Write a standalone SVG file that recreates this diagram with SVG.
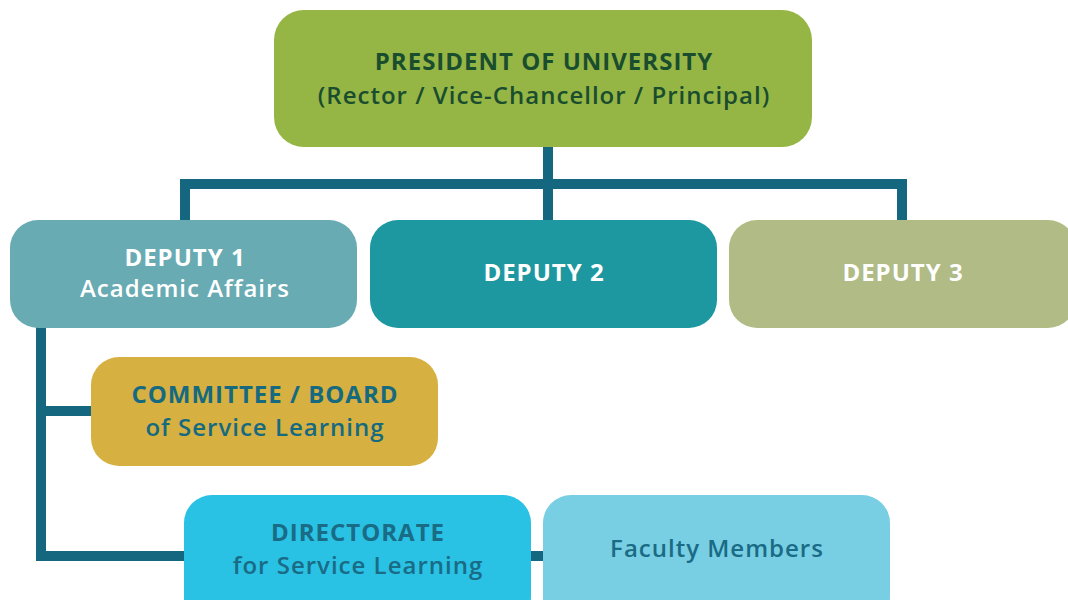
<svg xmlns="http://www.w3.org/2000/svg" width="1068" height="600" viewBox="0 0 1068 600">
<style>
.t{font-family:"Open Sans","Noto Sans","Liberation Sans",sans-serif;font-size:24px;letter-spacing:1px;text-anchor:middle}
.b{font-weight:700}
.m{font-weight:600}
.c{stroke:#14677f;stroke-width:10;fill:none}
</style>
<rect width="1068" height="600" fill="#ffffff"/>
<g id="connectors">
<line class="c" x1="548" y1="145" x2="548" y2="222"/>
<line class="c" x1="180" y1="184" x2="907" y2="184"/>
<line class="c" x1="185" y1="189" x2="185" y2="222"/>
<line class="c" x1="902" y1="189" x2="902" y2="222"/>
<polyline class="c" points="41,325 41,556 188,556"/>
<line class="c" x1="46" y1="411" x2="93" y2="411"/>
<line class="c" x1="529" y1="556" x2="546" y2="556"/>
</g>
<g id="president">
<rect x="274" y="10" width="538" height="137" rx="30" fill="#95b645"/>
<text class="t b" x="544" y="70" fill="#1a4d2e">PRESIDENT OF UNIVERSITY</text>
<text class="t m" x="544" y="104" fill="#1a4d2e">(Rector / Vice-Chancellor / Principal)</text>
</g>
<g id="deputy1">
<rect x="10" y="220" width="347" height="108" rx="28" fill="#68abb3"/>
<text class="t b" x="185" y="266" fill="#ffffff">DEPUTY 1</text>
<text class="t m" x="185" y="297" fill="#ffffff">Academic Affairs</text>
</g>
<g id="deputy2">
<rect x="370" y="220" width="347" height="108" rx="28" fill="#1e98a0"/>
<text class="t b" x="544" y="281" fill="#ffffff">DEPUTY 2</text>
</g>
<g id="deputy3">
<rect x="729" y="220" width="347" height="108" rx="28" fill="#b0bb85"/>
<text class="t b" x="903" y="281" fill="#ffffff">DEPUTY 3</text>
</g>
<g id="committee">
<rect x="91" y="357" width="347" height="109" rx="28" fill="#d6b040"/>
<text class="t b" x="265" y="403" fill="#156a80">COMMITTEE / BOARD</text>
<text class="t m" x="265" y="436" fill="#156a80">of Service Learning</text>
</g>
<g id="directorate">
<rect x="184" y="495" width="347" height="130" rx="28" fill="#29c1e4"/>
<text class="t b" x="358" y="541" fill="#1a6b85">DIRECTORATE</text>
<text class="t m" x="358" y="574" fill="#1a6b85">for Service Learning</text>
</g>
<g id="faculty">
<rect x="543" y="495" width="347" height="130" rx="28" fill="#78cfe3"/>
<text class="t m" x="717" y="557" fill="#1a6b85">Faculty Members</text>
</g>
</svg>
